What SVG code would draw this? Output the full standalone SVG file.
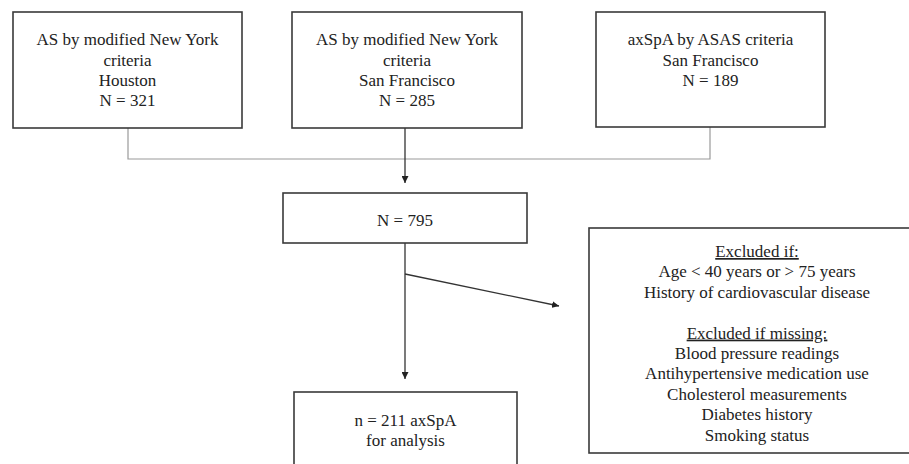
<svg xmlns="http://www.w3.org/2000/svg" width="909" height="464" viewBox="0 0 909 464">
<defs>
<style>
.box{fill:#fff;stroke:#3a3a3a;stroke-width:1.6}
.t{font-family:"Liberation Serif","Times New Roman",serif;font-size:17px;fill:#222;text-anchor:middle}
.u{text-decoration:underline}
.lg{stroke:#9a9a9a;stroke-width:1.2;fill:none}
.dk{stroke:#333;stroke-width:1.3;fill:none}
</style>
<marker id="ah" viewBox="0 0 10 10" refX="10" refY="5" markerWidth="7" markerHeight="7" markerUnits="userSpaceOnUse" orient="auto">
<path d="M0,0 L10,5 L0,10 z" fill="#222"/>
</marker>
</defs>
<rect width="909" height="464" fill="#fff"/>
<g id="connectors">
<polyline class="lg" points="128,128 128,159 710,159 710,127"/>
<line class="dk" x1="405" y1="128" x2="405" y2="183" marker-end="url(#ah)"/>
<line class="dk" x1="405" y1="243" x2="405" y2="379" marker-end="url(#ah)"/>
<line class="dk" x1="405" y1="274" x2="559" y2="306" marker-end="url(#ah)"/>
</g>
<g id="houston">
<rect class="box" x="13" y="12" width="229" height="116"/>
<text class="t" x="127.5" y="45">AS by modified New York</text>
<text class="t" x="127.5" y="65.5">criteria</text>
<text class="t" x="127.5" y="86">Houston</text>
<text class="t" x="127.5" y="106">N = 321</text>
</g>
<g id="sf-as">
<rect class="box" x="292" y="12" width="230" height="116"/>
<text class="t" x="407" y="45">AS by modified New York</text>
<text class="t" x="407" y="65.5">criteria</text>
<text class="t" x="407" y="86">San Francisco</text>
<text class="t" x="407" y="106">N = 285</text>
</g>
<g id="sf-axspa">
<rect class="box" x="596" y="12" width="229" height="115"/>
<text class="t" x="710.5" y="45">axSpA by ASAS criteria</text>
<text class="t" x="710.5" y="65.5">San Francisco</text>
<text class="t" x="710.5" y="86">N = 189</text>
</g>
<g id="total">
<rect class="box" x="283" y="193" width="244" height="50"/>
<text class="t" x="405" y="226">N = 795</text>
</g>
<g id="analysis">
<rect class="box" x="294" y="392" width="223" height="90"/>
<text class="t" x="405.5" y="426">n = 211 axSpA</text>
<text class="t" x="405.5" y="446">for analysis</text>
</g>
<g id="excluded">
<rect class="box" x="589" y="228" width="340" height="225"/>
<text class="t u" x="757" y="257">Excluded if:</text>
<text class="t" x="757" y="277.4">Age &lt; 40 years or &gt; 75 years</text>
<text class="t" x="757" y="297.8">History of cardiovascular disease</text>
<text class="t u" x="757" y="338.6">Excluded if missing:</text>
<text class="t" x="757" y="359">Blood pressure readings</text>
<text class="t" x="757" y="379.4">Antihypertensive medication use</text>
<text class="t" x="757" y="399.8">Cholesterol measurements</text>
<text class="t" x="757" y="420.2">Diabetes history</text>
<text class="t" x="757" y="440.6">Smoking status</text>
</g>
</svg>
